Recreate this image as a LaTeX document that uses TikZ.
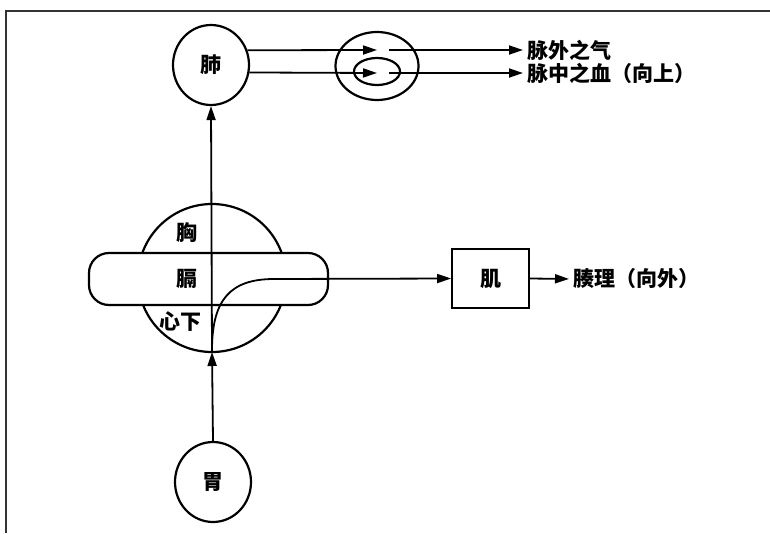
\documentclass[tikz,border=0pt]{standalone}
\usepackage{fontspec}
\newfontfamily\cjk{Noto Sans CJK SC}
\usetikzlibrary{arrows.meta,shapes.geometric}
\begin{document}
\begin{tikzpicture}[x=1pt,y=-1pt,
  organ/.style={draw,ellipse,line width=2.2pt,minimum width=76pt,minimum height=80pt,inner sep=0pt,font=\cjk\bfseries\fontsize{21}{23}\selectfont},
  lbl/.style={inner sep=0pt,font=\cjk\bfseries\fontsize{21}{23}\selectfont},
  flow/.style={line width=1.8pt,-{Triangle[length=14pt,width=9pt]}},
  plain/.style={line width=1.8pt}]
\useasboundingbox (0,0) rectangle (770,533);
% frame
\draw[line width=1.2pt,black!80] (6,533) -- (6,11) -- (770,11);
% chest circle and diaphragm pill
\node[draw,circle,line width=2.2pt,minimum size=148pt,inner sep=0pt] (xiong) at (212,278) {};
\node[draw,fill=white,rectangle,rounded corners=20pt,line width=2.2pt,minimum width=239pt,minimum height=52pt,inner sep=0pt] (ge) at (208.5,279) {};
% organs
\node[organ] (fei) at (211,65) {肺};
\node[organ] (wei) at (213,482) {胃};
\node[draw,rectangle,line width=1.8pt,minimum width=77pt,minimum height=59pt,inner sep=0pt,font=\cjk\bfseries\fontsize{21}{23}\selectfont] (ji) at (490.5,278.5) {肌};
% ellipses
\node[draw,ellipse,line width=2.2pt,minimum width=83pt,minimum height=68pt,inner sep=0pt] (outer) at (377,66) {};
\node[draw,ellipse,line width=2.2pt,minimum width=46pt,minimum height=27pt,inner sep=0pt] (inner) at (377,71.5) {};
% texts in chest
\node[lbl] (txiong) at (187,233) {胸};
\node[lbl] (tge) at (187,279) {膈};
\node[lbl] (txin) at (180,322) {心下};
% labels
\node[lbl,anchor=west] (qi) at (527,50) {脉外之气};
\node[lbl,anchor=west] (xue) at (527,73) {脉中之血（向上）};
\node[lbl,anchor=west] (cou) at (573,279) {腠理（向外）};
% coordinates
\coordinate (t1) at (377,50);
\coordinate (t2) at (377,73);
\coordinate (s1) at (389,50);
\coordinate (s2) at (389,73);
\coordinate (cb) at (212,352);
\coordinate (cs) at (212,350);
\coordinate (ch) at (274,279);
% connectors
\draw[flow] (wei.north) -- (cb);
\draw[flow] (cb) -- (fei.south);
\draw[plain] (cs) .. controls (212,300) and (230,279) .. (ch);
\draw[flow] (ch) -- (ji.west);
\draw[flow,shorten >=4pt] (ji.east) -- (cou.west);
\draw[flow] (fei.22) -- (t1);
\draw[flow] (fei.-11) -- (t2);
\draw[flow,shorten >=4pt] (s1) -- (qi.west);
\draw[flow,shorten >=4pt] (s2) -- (xue.west);
\end{tikzpicture}
\end{document}
